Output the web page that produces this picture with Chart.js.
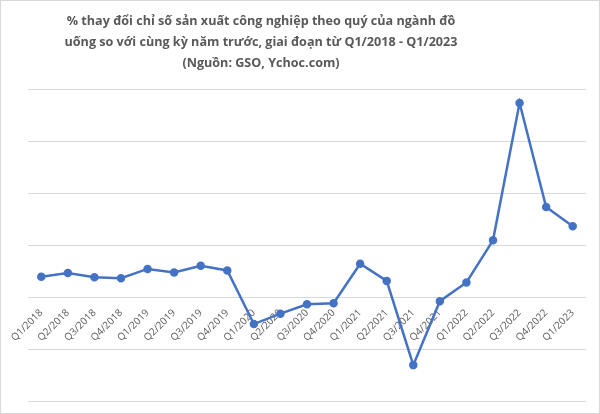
<!DOCTYPE html>
<html>
<head>
<meta charset="utf-8">
<script src="https://cdn.jsdelivr.net/npm/chart.js@4"></script>
<style>
  html, body { margin: 0; padding: 0; background: #fff; }
  #wrap { position: relative; width: 598px; height: 412px; border: 1px solid #d9d9d9; }
  #title {
    position: absolute; left: 0; top: 9px; width: 520px;
    text-align: center; font-family: "Open Sans", sans-serif; font-weight: bold;
    font-size: 12.6px; line-height: 21px; color: #595959;
  }
  canvas { position: absolute; left: 0; top: 0; }
</style>
</head>
<body>
<div id="wrap">
  <canvas id="c" width="598" height="412"></canvas>
  <div id="title">% thay đổi chỉ số sản xuất công nghiệp theo quý của ngành đồ<br>uống so với cùng kỳ năm trước, giai đoạn từ Q1/2018 - Q1/2023<br>(Nguồn: GSO, Ychoc.com)</div>
</div>
<script>
const quarters = ['Q1/2018', 'Q2/2018', 'Q3/2018', 'Q4/2018', 'Q1/2019', 'Q2/2019', 'Q3/2019', 'Q4/2019',
  'Q1/2020', 'Q2/2020', 'Q3/2020', 'Q4/2020', 'Q1/2021', 'Q2/2021', 'Q3/2021', 'Q4/2021',
  'Q1/2022', 'Q2/2022', 'Q3/2022', 'Q4/2022', 'Q1/2023'];
const changePct = [3.9, 4.6, 3.8, 3.6, 5.4, 4.7, 6.0, 5.1,
  -5.2, -3.2, -1.4, -1.2, 6.4, 3.1, -13.1, -0.8,
  2.8, 10.9, 37.3, 17.3, 13.6];
const yMin = -20, yMax = 40, yStep = 10;

const ctx = document.getElementById('c').getContext('2d');
new Chart(ctx, {
  type: 'line',
  data: {
    labels: quarters,
    datasets: [{
      data: changePct,
      borderColor: '#4472c4',
      backgroundColor: '#4472c4',
      borderWidth: 2.5,
      pointRadius: 3,
      pointHoverRadius: 3,
      tension: 0
    }]
  },
  options: {
    responsive: false,
    animation: false,
    layout: { padding: { left: 27, right: 13, top: 88, bottom: 12 } },
    plugins: {
      legend: { display: false },
      tooltip: { enabled: false }
    },
    scales: {
      x: {
        position: { y: 0 },
        offset: true,
        afterFit: (scale) => { scale.height = 0; },
        grid: { display: false },
        border: { display: false },
        ticks: {
          autoSkip: false,
          minRotation: 45,
          maxRotation: 45,
          padding: 2,
          color: '#595959',
          font: { family: 'Open Sans', size: 10 }
        }
      },
      y: {
        min: yMin,
        max: yMax,
        afterFit: (scale) => { scale.width = 0; },
        grid: { color: '#d9d9d9', lineWidth: 1, drawTicks: false },
        border: { display: false },
        ticks: { display: false, stepSize: yStep }
      }
    }
  }
});
</script>
</body>
</html>
